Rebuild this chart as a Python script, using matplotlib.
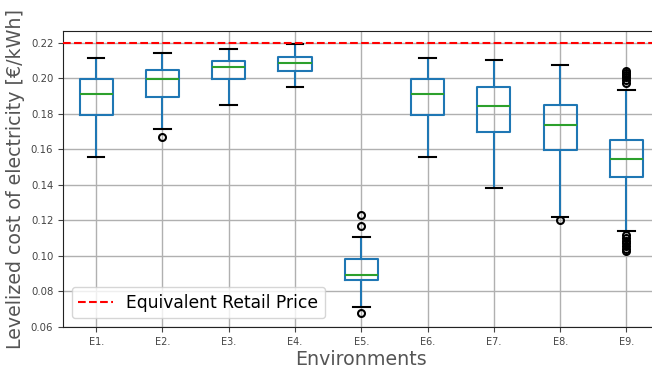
import matplotlib
matplotlib.use('Agg')
import matplotlib.pyplot as plt

# Box statistics
labels = ['E1.', 'E2.', 'E3.', 'E4.', 'E5.', 'E6.', 'E7.', 'E8.', 'E9.']
whislo = [0.1555, 0.1716, 0.1850, 0.1950, 0.0714, 0.1555, 0.1380, 0.1217, 0.1138]
q1 = [0.1793, 0.1897, 0.1995, 0.2040, 0.0864, 0.1793, 0.1695, 0.1594, 0.1445]
med = [0.1914, 0.1998, 0.2062, 0.2084, 0.0892, 0.1914, 0.1843, 0.1735, 0.1548]
q3 = [0.1995, 0.2049, 0.2099, 0.2118, 0.0981, 0.1995, 0.1953, 0.1847, 0.1650]
whishi = [0.2116, 0.2142, 0.2166, 0.2194, 0.1106, 0.2116, 0.2101, 0.2077, 0.1936]
fliers = [
    [],
    [0.1669],
    [],
    [],
    [0.1228, 0.1166, 0.0678],
    [],
    [],
    [0.1205],
    [0.2040, 0.2030, 0.2020, 0.2005, 0.1990, 0.1975,
     0.1118, 0.1100, 0.1085, 0.1070, 0.1055, 0.1040, 0.1025],
]
retail_price = 0.22

stats = []
for i, lab in enumerate(labels):
    stats.append(dict(label=lab, whislo=whislo[i], q1=q1[i], med=med[i],
                      q3=q3[i], whishi=whishi[i], fliers=fliers[i]))

fig = plt.figure(figsize=(6.52, 3.69), dpi=100)
ax = fig.add_axes([0.0966, 0.1138, 0.915, 0.8022])

ax.bxp(stats, widths=0.5, patch_artist=False,
       boxprops=dict(color='#1f77b4', linewidth=1.5),
       whiskerprops=dict(color='#1f77b4', linewidth=1.5),
       medianprops=dict(color='#2ca02c', linewidth=1.5),
       capprops=dict(color='black', linewidth=1.5),
       flierprops=dict(marker='o', markerfacecolor='none', markeredgecolor='black',
                       markersize=5, markeredgewidth=1.5))

ax.axhline(retail_price, color='red', linestyle='--', linewidth=1.5,
           label='Equivalent Retail Price', zorder=3)

ax.set_ylim(0.06, 0.2266)
ax.set_yticks([0.06, 0.08, 0.10, 0.12, 0.14, 0.16, 0.18, 0.20, 0.22])
ax.set_yticklabels(['%.2f' % v for v in ax.get_yticks()])
ax.grid(True, color='#b0b0b0', linewidth=1.0)
ax.set_axisbelow(True)
ax.tick_params(axis='both', labelsize=7.3, colors='#444444', length=3.5)
ax.tick_params(axis='x', labelsize=7)
for s in ax.spines.values():
    s.set_color('#222222')

ax.set_xlabel('Environments', fontsize=13.7, color='#555555', labelpad=2)
ax.set_ylabel('Levelized cost of electricity [€/kWh]', fontsize=13.7, color='#555555', labelpad=4)

ax.legend(loc='lower left', fontsize=12.3, handlelength=2.0, framealpha=0.8,
          borderaxespad=0.5)

fig.savefig('out.png', dpi=100)
